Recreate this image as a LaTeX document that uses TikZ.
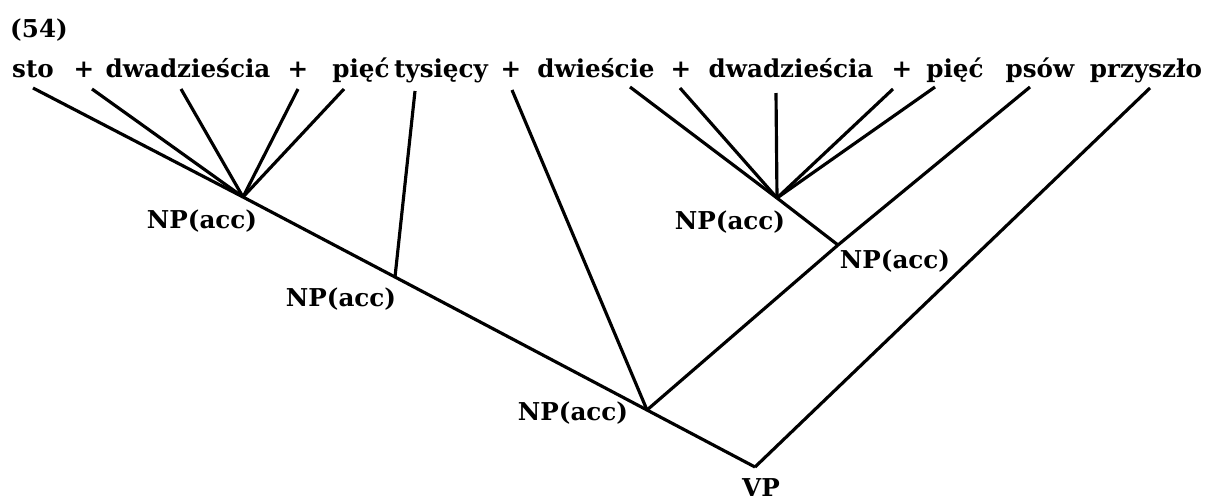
\documentclass[tikz,border=0pt]{standalone}
\usepackage{fontspec}
\setmainfont{DejaVu Serif}
\usetikzlibrary{calc}

\begin{document}
\begin{tikzpicture}[x=0.02cm,y=-0.02cm,line width=1.8pt,
	word/.style={inner sep=0pt,anchor=base,font=\fontsize{14pt}{16pt}\selectfont\bfseries},
	cat/.style={inner sep=0pt,font=\fontsize{14pt}{16pt}\selectfont\bfseries}]
\useasboundingbox (0,0) rectangle (1210,501);

\node[word] (ex) at (39,37) {(54)};

%words
\foreach \n/\x/\w in {1/33/sto, 2/84/+, 3/188/dwadzieścia, 4/298/+, 5/361/pięć, 6/441/tysięcy, 7/511/+, 8/596/dwieście, 9/681/+, 10/791/dwadzieścia, 11/902/+, 12/955/pięć, 13/1040/psów, 14/1146/przyszło}{
	\node[word] (w\n) at (\x,77) {\w};
}

%top ends of the branches
\foreach \n/\x/\y in {1/33/88, 2/92/89, 3/181/89, 4/298/89, 5/344/89, 6/415/91, 7/512/90, 8/630/87, 9/680/88, 10/776/93, 11/893/89, 12/935/87, 13/1030/87, 14/1150/88}{
	\coordinate (t\n) at (\x,\y);
}

%junctions
\coordinate (np1) at (243,197);
\coordinate (np2) at (395,277);
\coordinate (np3) at (647,410);
\coordinate (np4) at (777,198);
\coordinate (np5) at (838,245);
\coordinate (vp) at (755,467);

%labels
\node[cat] (l1) at ($(np1)+(-41,24)$) {NP(acc)};
\node[cat] (l2) at ($(np2)+(-54,22)$) {NP(acc)};
\node[cat] (l3) at ($(np3)+(-74,3)$) {NP(acc)};
\node[cat] (l4) at ($(np4)+(-47,24)$) {NP(acc)};
\node[cat] (l5) at ($(np5)+(57,16)$) {NP(acc)};
\node[cat] (l6) at ($(vp)+(6,21)$) {VP};

%sto + dwadziescia + piec
\foreach \n in {1,...,5}{
	\draw (t\n)--(np1);
}
\draw (np1)--(np2)--(np3)--(vp);
\draw (t6)--(np2);
\draw (t7)--(np3);

%dwiescie + dwadziescia + piec
\foreach \n in {8,...,12}{
	\draw (t\n)--(np4);
}
\draw (np4)--(np5);
\draw (t13)--(np5)--(np3);

%przyszlo
\draw (t14)--(vp);

\end{tikzpicture}
\end{document}
